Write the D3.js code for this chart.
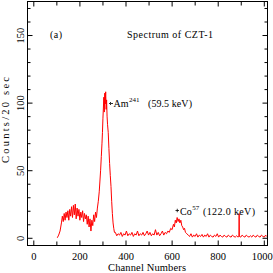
<!DOCTYPE html>
<html>
<head>
<meta charset="utf-8">
<script src="https://cdn.jsdelivr.net/npm/d3@7"></script>
<style>
	body { margin: 0; background: #fff; }
	svg { display: block; }
	.tick text { font-family: 'Liberation Serif', 'DejaVu Serif', serif; font-size: 10.5px; fill: #000; }
</style>
</head>
<body>
<div id="chart"></div>
<script>
// spectrum (channel, counts per 20 sec)
const channels = [
	104, 110, 116, 122, 126, 130, 134, 138, 142, 146, 150, 154, 158, 162, 166, 170, 174, 178, 182, 186,
	190, 194, 198, 202, 206, 210, 214, 218, 222, 226, 230, 234, 238, 242, 246, 250, 254, 258, 262, 266,
	270, 274, 278, 282,
	286, 289, 292, 295, 298, 300, 302, 304, 306, 308, 310, 312, 314, 316, 318, 320, 322, 325, 328,
	331, 334, 337, 340, 343, 346, 349, 352,
	356, 362, 368, 374, 380, 386, 392, 398, 404, 410, 416, 422, 428, 434, 440, 446, 452, 458, 464, 470,
	476, 482, 488, 494, 500, 506, 512, 518, 524, 530, 536, 542, 548, 554, 560, 566, 572, 578,
	584, 590, 596, 602, 608, 612, 616, 620, 624, 628, 632, 636, 640, 644, 648, 652, 656, 660, 666, 672,
	678, 684, 690, 696, 702, 708, 714, 720, 726, 732, 738, 744, 750, 756, 762, 768, 774, 780, 786, 792,
	798, 804, 810, 816, 822, 828, 834, 840, 846, 852, 858, 864, 870, 876, 882, 888, 892, 893, 894, 900,
	906, 912, 918, 924, 930, 936, 942, 948, 954, 960, 966, 972, 978, 984, 990, 996, 1002, 1008, 1012
]
const counts = [
	0, 2, 5, 11, 16, 12, 18, 13, 19, 15, 20, 13, 21, 16, 23, 15, 24, 17, 25, 14,
	22, 16, 21, 13, 19, 15, 20, 12, 18, 14, 17, 10, 16, 8, 14, 5, 13, 9, 17, 12,
	19, 15, 22, 27,
	34, 42, 50, 60, 70, 78, 88, 96, 104, 93, 107, 99, 108, 95, 102, 90, 84, 78, 66,
	55, 46, 38, 27, 18, 11, 7, 4,
	4, 1.5, 3, 2, 4, 1, 3, 2, 5, 1.5, 3, 2, 4, 1, 3, 2, 5, 1.5, 3, 2,
	4, 1.5, 3, 5, 2, 4, 1.5, 3, 2, 6, 2, 4, 1.5, 3, 5, 2, 4, 3,
	5, 4, 7, 6, 10, 8, 13, 11, 15, 12, 14, 11, 13, 9, 8, 6, 7, 4, 3, 2,
	1, 3, 0.5, 2, 1, 3, 0.5, 2, 1, 2.5, 0.5, 2, 1, 3, 0.5, 2, 1, 0.5, 2, 1,
	3, 0.5, 2, 1, 0.5, 2, 1, 0.5, 2, 1, 0.5, 2, 1, 0.5, 1.5, 0.5, 1, 18, 1, 0.5,
	2, 1, 0.5, 2, 1, 0.5, 1.5, 0.5, 2, 1, 0.5, 2, 1, 0.5, 2, 1, 0.5, 2, 1
]
const xMajor = [0, 200, 400, 600, 800, 1000]
const xMinor = [100, 300, 500, 700, 900]
const yMajor = [0, 50, 100, 150]
const yMinor = [10, 20, 30, 40, 60, 70, 80, 90, 110, 120, 130, 140, 160, 170]

const width = 273
const height = 273
const box = { left: 27.5, right: 267.5, top: 1.5, bottom: 245.5 }
const serif = "'Liberation Serif', 'DejaVu Serif', serif"

const x = d3.scaleLinear().domain([-25.2, 1016]).range([box.left, box.right])
const y = d3.scaleLinear().domain([-5.7, 174.8]).range([box.bottom, box.top])

const svg = d3
	.select('#chart')
	.append('svg')
	.attr('width', width)
	.attr('height', height)

const clip = svg.append('clipPath').attr('id', 'plotClip')
clip.append('rect')
	.attr('x', box.left)
	.attr('y', box.top)
	.attr('width', box.right - box.left)
	.attr('height', box.bottom - box.top)

//spectrum line
const line = d3
	.line()
	.x((d, i) => x(channels[i]))
	.y(d => y(d))

svg.append('path')
	.datum(counts)
	.attr('clip-path', 'url(#plotClip)')
	.attr('fill', 'none')
	.attr('stroke', '#ff0000')
	.attr('stroke-width', 1)
	.attr('d', line)

//ticks on all four sides, pointing in
const addAxis = (axis, tx, ty) => {
	const g = svg.append('g').attr('transform', `translate(${tx},${ty})`).call(axis)
	g.select('.domain').remove()
	g.selectAll('.tick line').attr('stroke', '#000')
	return g
}

const bottomAxis = addAxis(d3.axisBottom(x).tickValues(xMajor).tickSize(-5).tickPadding(7).tickFormat(d3.format('d')), 0, box.bottom)
bottomAxis.selectAll('text').attr('dy', '0.71em')
// last label sits right on the page edge, pull it in a touch
bottomAxis.selectAll('text').filter(d => d === 1000).attr('x', -2)
addAxis(d3.axisBottom(x).tickValues(xMinor).tickSize(-4).tickFormat(''), 0, box.bottom)
addAxis(d3.axisTop(x).tickValues(xMajor).tickSize(-5).tickFormat(''), 0, box.top)
addAxis(d3.axisTop(x).tickValues(xMinor).tickSize(-4).tickFormat(''), 0, box.top)

const leftAxis = addAxis(d3.axisLeft(y).tickValues(yMajor).tickSize(-5).tickFormat(d3.format('d')), box.left, 0)
leftAxis.selectAll('text')
	.attr('transform', 'rotate(-90)')
	.attr('x', 0)
	.attr('y', -4)
	.attr('dy', 0)
	.attr('text-anchor', 'middle')
addAxis(d3.axisLeft(y).tickValues(yMinor).tickSize(-3).tickFormat(''), box.left, 0)
addAxis(d3.axisRight(y).tickValues(yMajor).tickSize(-5).tickFormat(''), box.right, 0)
addAxis(d3.axisRight(y).tickValues(yMinor).tickSize(-3).tickFormat(''), box.right, 0)

//frame
svg.append('rect')
	.attr('x', box.left)
	.attr('y', box.top)
	.attr('width', box.right - box.left)
	.attr('height', box.bottom - box.top)
	.attr('fill', 'none')
	.attr('stroke', '#000')
	.attr('stroke-width', 1)

// plain text helper, stretched to the width seen in the reference
const label = (px, py, str, size, len) => {
	const t = svg.append('text')
		.attr('x', px)
		.attr('y', py)
		.attr('font-family', serif)
		.attr('font-size', `${size}px`)
		.text(str)
	if (len) t.attr('textLength', len).attr('lengthAdjust', 'spacing')
	return t
}

// isotope name with its mass number raised, as one text element
const isotope = (px, py, name, mass) => {
	const t = svg.append('text')
		.attr('x', px)
		.attr('y', py)
		.attr('font-family', serif)
		.attr('font-size', '10px')
	t.append('tspan').text(name)
	t.append('tspan').attr('dx', 0.5).attr('dy', -5).attr('font-size', '7px').text(mass)
	return t
}

//axis titles
label(108, 271, 'Channel Numbers', 10.5, 78)
label(0, 0, 'Counts/20 sec', 10.5, 86).attr('transform', 'translate(8.5,163) rotate(-90)')

//labels inside the plot
label(50, 38, '(a)', 10, 12)
label(127, 38, 'Spectrum of CZT-1', 10, 86)

// small pointer marks in front of the peak labels
svg.append('path')
	.attr('d', 'M109.5,103.5 L113,103.5 M111,102 L109.5,103.5 L111,105')
	.attr('fill', 'none')
	.attr('stroke', '#000')
	.attr('stroke-width', 0.8)
svg.append('path')
	.attr('d', 'M175.5,210.5 L179,210.5 M177.25,208.75 L177.25,212.25')
	.attr('fill', 'none')
	.attr('stroke', '#000')
	.attr('stroke-width', 0.8)

isotope(113.5, 107, 'Am', '241')
label(148, 107, '(59.5 keV)', 10, 44)

isotope(180, 215, 'Co', '57')
label(203, 215, '(122.0 keV)', 10, 52)
</script>
</body>
</html>
